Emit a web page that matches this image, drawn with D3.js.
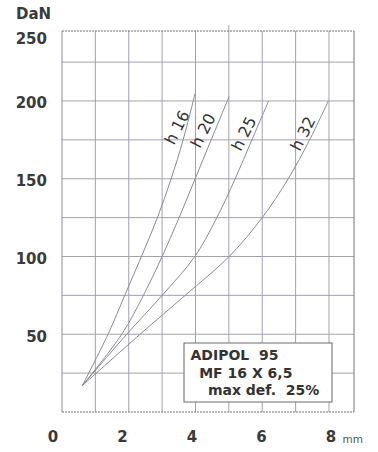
<!DOCTYPE html>
<html>
<head>
<meta charset="utf-8">
<script src="https://cdn.jsdelivr.net/npm/d3@7"></script>
<style>
  body { margin: 0; background: #fff; }
  text { font-family: "DejaVu Sans", Verdana, sans-serif; }
</style>
</head>
<body>
<div id="graph"></div>
<script>
// values: deflection (mm) vs load (DaN)
const seriesNames = ["h 16", "h 20", "h 25", "h 32"];
const h16_mm  = [0.61, 1.38, 1.88, 2.38, 2.86, 3.27, 3.63, 3.99];
const h16_daN = [17, 50, 75, 100, 125, 150, 175, 205];
const h20_mm  = [0.61, 1.79, 2.44, 3.00, 3.51, 3.99, 4.47, 5.01];
const h20_daN = [17, 50, 75, 100, 125, 150, 175, 203];
const h25_mm  = [0.61, 1.94, 3.0, 3.98, 4.64, 5.19, 5.69, 6.19];
const h25_daN = [17, 50, 75, 100, 125, 150, 175, 200];
const h32_mm  = [0.61, 2.34, 3.69, 5.01, 6.0, 6.78, 7.42, 7.98];
const h32_daN = [17, 50, 75, 100, 125, 150, 175, 200];
const xTicks = [0, 2, 4, 6, 8];
const yTicks = [50, 100, 150, 200, 250];
const legendLines = ["ADIPOL  95", "MF 16 X 6,5", "max def.  25%"];

const width = 378,
    height = 452,
    pLeft = 62, pRight = 354,   // plot frame
    pTop = 31, pBottom = 412;

const x = d3.scaleLinear().domain([0, 8.75]).range([pLeft, pRight]);
const y = d3.scaleLinear().domain([0, 245]).range([pBottom, pTop]);
// tick labels in the scan sit a little off the grid
const xLab = d3.scaleLinear().domain([0, 8]).range([53, 331]);

const svg = d3.select("#graph")
    .append("svg")
    .attr("width", width)
    .attr("height", height);

const series = [
  {name: seriesNames[0], mm: h16_mm, daN: h16_daN},
  {name: seriesNames[1], mm: h20_mm, daN: h20_daN},
  {name: seriesNames[2], mm: h25_mm, daN: h25_daN},
  {name: seriesNames[3], mm: h32_mm, daN: h32_daN}
].map(function (s) {
  s.points = s.mm.map(function (m, i) { return [m, s.daN[i]]; });
  return s;
});

// grid
const gridColor = "#a2a2b0";
svg.append("g")
    .selectAll("line")
    .data(d3.range(1, 9))
    .enter()
    .append("line")
    .attr("x1", function (d) { return x(d); })
    .attr("x2", function (d) { return x(d); })
    .attr("y1", function (d) { return d === 5 ? pTop - 6 : pTop; })
    .attr("y2", pBottom)
    .attr("stroke", gridColor);

svg.append("g")
    .selectAll("line")
    .data(d3.range(25, 245, 25))
    .enter()
    .append("line")
    .attr("x1", pLeft)
    .attr("x2", pRight)
    .attr("y1", function (d) { return y(d); })
    .attr("y2", function (d) { return y(d); })
    .attr("stroke", gridColor);

// frame
svg.append("line").attr("x1", pLeft).attr("x2", pLeft).attr("y1", pTop).attr("y2", pBottom)
    .attr("stroke", "#8c8c98");
svg.append("line").attr("x1", pRight).attr("x2", pRight).attr("y1", pTop).attr("y2", pBottom)
    .attr("stroke", "#77777f");
[pTop, pBottom].forEach(function (yy) {
  svg.append("line").attr("x1", pLeft).attr("x2", pRight).attr("y1", yy).attr("y2", yy)
      .attr("stroke", "#6f6f78")
      .attr("stroke-dasharray", "2,1");
});

// curves
const line = d3.line()
    .x(function (d) { return x(d[0]); })
    .y(function (d) { return y(d[1]); })
    .curve(d3.curveCatmullRom);

svg.append("g")
    .selectAll("path")
    .data(series)
    .enter()
    .append("path")
    .attr("d", function (d) { return line(d.points); })
    .attr("fill", "none")
    .attr("stroke", "#8a8a94")
    .attr("stroke-width", 1);

// curve labels, written along the top of each curve (mm, DaN)
const labelPos = [[3.45, 183], [4.23, 181], [5.45, 179], [7.22, 179]];
svg.append("g")
    .selectAll("text")
    .data(series)
    .enter()
    .append("text")
    .attr("transform", function (d, i) {
      return "translate(" + x(labelPos[i][0]) + "," + y(labelPos[i][1]) + ") rotate(-63)";
    })
    .attr("text-anchor", "middle")
    .attr("dominant-baseline", "central")
    .attr("font-size", 16)
    .attr("fill", "#333")
    .text(function (d) { return d.name; });

// legend box
svg.append("rect")
    .attr("x", 184).attr("y", 343)
    .attr("width", 148).attr("height", 59)
    .attr("fill", "#fff")
    .attr("stroke", "#6a6a6a");

svg.append("g")
    .selectAll("text")
    .data(legendLines)
    .enter()
    .append("text")
    .attr("x", function (d, i) { return 190.5 + i * 8.7; })
    .attr("y", function (d, i) { return 360 + i * 17.5; })
    .attr("font-size", 14)
    .attr("font-weight", "bold")
    .attr("fill", "#333")
    .style("white-space", "pre")
    .text(function (d) { return d; });

// axes labels
svg.append("g")
    .selectAll("text")
    .data(yTicks)
    .enter()
    .append("text")
    .attr("x", 47)
    .attr("y", function (d) { return Math.max(y(d), pTop + 5.5) + 7.5; })
    .attr("text-anchor", "end")
    .attr("font-size", 15)
    .attr("font-weight", "bold")
    .attr("fill", "#3a3a3a")
    .text(function (d) { return d; });

svg.append("text")
    .attr("x", 16).attr("y", 18.5)
    .attr("font-size", 15)
    .attr("font-weight", "bold")
    .attr("fill", "#3a3a3a")
    .text("DaN");

svg.append("g")
    .selectAll("text")
    .data(xTicks)
    .enter()
    .append("text")
    .attr("x", function (d) { return xLab(d); })
    .attr("y", 442)
    .attr("text-anchor", "middle")
    .attr("font-size", 15)
    .attr("font-weight", "bold")
    .attr("fill", "#3a3a3a")
    .text(function (d) { return d; });

svg.append("text")
    .attr("x", 342.5).attr("y", 442.5)
    .attr("font-size", 10.5)
    .attr("fill", "#555")
    .text("mm");
</script>
</body>
</html>
